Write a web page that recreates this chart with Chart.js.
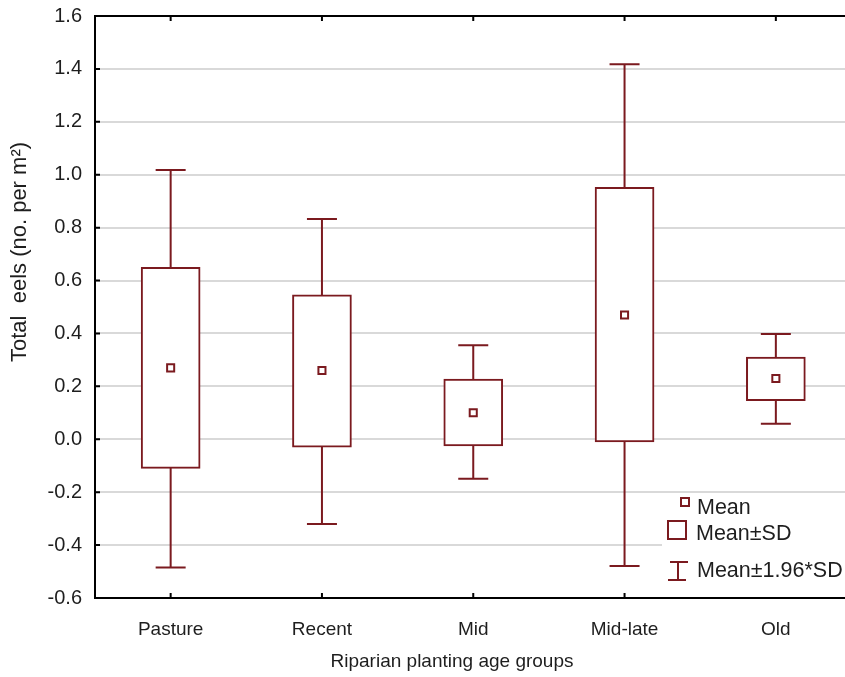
<!DOCTYPE html>
<html>
<head>
<meta charset="utf-8">
<script src="https://cdn.jsdelivr.net/npm/chart.js@4/dist/chart.umd.min.js"></script>
<style>
  html, body { margin: 0; padding: 0; background: #fff; overflow: hidden; }
  #wrap { width: 860px; height: 677px; }
</style>
</head>
<body>
<div id="wrap"><canvas id="c" width="860" height="677"></canvas></div>
<script>
// Riparian planting age groups: total eels per m², mean with ±SD box and ±1.96*SD whiskers
const categories = ['Pasture', 'Recent', 'Mid', 'Mid-late', 'Old'];
const means      = [0.27, 0.26, 0.10, 0.47, 0.23];
const sdLow      = [-0.11, -0.03, -0.025, -0.01, 0.146];
const sdHigh     = [0.65, 0.546, 0.228, 0.952, 0.311];
const ciLow      = [-0.485, -0.32, -0.149, -0.479, 0.059];
const ciHigh     = [1.018, 0.833, 0.355, 1.418, 0.398];
const yTicks     = [-0.6, -0.4, -0.2, 0.0, 0.2, 0.4, 0.6, 0.8, 1.0, 1.2, 1.4, 1.6];

const MARK = '#7b1a1f';
const FONT = "'Liberation Sans', Arial, sans-serif";
const TEXT = '#1e1e1e';

// whisker stems and caps, drawn under the SD boxes
const whiskers = {
  id: 'whiskers',
  beforeDatasetsDraw(chart) {
    const { ctx, scales: { x, y } } = chart;
    ctx.save();
    ctx.strokeStyle = MARK;
    ctx.lineWidth = 2;
    categories.forEach((c, i) => {
      const px = x.getPixelForValue(i);
      const top = y.getPixelForValue(ciHigh[i]);
      const bot = y.getPixelForValue(ciLow[i]);
      ctx.beginPath();
      ctx.moveTo(px, top); ctx.lineTo(px, bot);
      ctx.moveTo(px - 15, top); ctx.lineTo(px + 15, top);
      ctx.moveTo(px - 15, bot); ctx.lineTo(px + 15, bot);
      ctx.stroke();
    });
    ctx.restore();
  }
};

// frame, inward tick marks, axis titles and the key
const frame = {
  id: 'frame',
  afterDraw(chart) {
    const { ctx, chartArea: a, scales: { x, y } } = chart;
    ctx.save();
    ctx.strokeStyle = '#000';
    ctx.lineWidth = 2;
    ctx.beginPath();
    ctx.moveTo(a.left - 1, a.top); ctx.lineTo(a.right, a.top);
    yTicks.forEach(v => {
      const py = y.getPixelForValue(v);
      ctx.moveTo(a.left, py); ctx.lineTo(a.left + 5, py);
    });
    categories.forEach((c, i) => {
      const px = x.getPixelForValue(i);
      ctx.moveTo(px, a.top); ctx.lineTo(px, a.top + 5);
      ctx.moveTo(px, a.bottom); ctx.lineTo(px, a.bottom - 5);
    });
    ctx.stroke();

    // axis titles
    ctx.fillStyle = TEXT;
    ctx.font = '19px ' + FONT;
    ctx.textAlign = 'center';
    ctx.textBaseline = 'alphabetic';
    ctx.fillText('Riparian planting age groups', 452, 667);
    ctx.save();
    ctx.translate(26, 252);
    ctx.rotate(-Math.PI / 2);
    ctx.font = '22px ' + FONT;
    ctx.fillText('Total  eels (no. per m²)', 0, 0);
    ctx.restore();

    // key
    ctx.fillStyle = '#fff';
    ctx.fillRect(662, 496, 200, a.bottom - 497);
    ctx.strokeStyle = MARK;
    ctx.lineWidth = 2;
    ctx.strokeRect(681, 498, 8, 8);
    ctx.strokeRect(668, 521, 18, 18);
    ctx.beginPath();
    ctx.moveTo(670, 562); ctx.lineTo(688, 562);
    ctx.moveTo(678, 562); ctx.lineTo(678, 580);
    ctx.moveTo(668, 580); ctx.lineTo(686, 580);
    ctx.stroke();
    ctx.fillStyle = TEXT;
    ctx.font = '21.5px ' + FONT;
    ctx.textAlign = 'left';
    ctx.textBaseline = 'middle';
    ctx.fillText('Mean', 697, 508);
    ctx.fillText('Mean±SD', 696, 534);
    ctx.fillText('Mean±1.96*SD', 697, 571);
    ctx.restore();
  }
};

new Chart(document.getElementById('c'), {
  data: {
    labels: categories,
    datasets: [
      {
        type: 'line',
        label: 'Mean',
        data: means,
        showLine: false,
        pointStyle: 'rect',
        pointRadius: 5,
        pointBorderWidth: 2,
        pointBackgroundColor: '#fff',
        pointBorderColor: MARK,
        order: 0
      },
      {
        type: 'bar',
        label: 'Mean±SD',
        data: categories.map((c, i) => [sdLow[i], sdHigh[i]]),
        backgroundColor: '#fff',
        borderColor: MARK,
        borderWidth: 2,
        borderSkipped: false,
        barThickness: 59,
        order: 1
      }
    ]
  },
  options: {
    responsive: false,
    animation: false,
    layout: { padding: { top: 16, right: 8.5, left: 0, bottom: 0 } },
    plugins: { legend: { display: false }, tooltip: { enabled: false } },
    scales: {
      x: {
        type: 'category',
        offset: true,
        grid: { display: false, drawTicks: false },
        border: { display: true, color: '#000', width: 2 },
        ticks: { color: TEXT, font: { family: FONT, size: 19 }, padding: 20 },
        afterFit(s) { s.height = 79; s.paddingLeft = 0; s.paddingRight = 0; }
      },
      y: {
        min: -0.6,
        max: 1.6,
        afterBuildTicks(s) { s.ticks = yTicks.map(v => ({ value: v })); },
        grid: { color: '#d9d9d9', lineWidth: 2, drawTicks: false },
        border: { display: true, color: '#000', width: 2 },
        ticks: {
          color: TEXT,
          font: { family: FONT, size: 20 },
          padding: 13,
          callback: v => v.toFixed(1)
        },
        afterFit(s) { s.width = 95; s.paddingTop = 0; s.paddingBottom = 0; }
      }
    }
  },
  plugins: [whiskers, frame]
});
</script>
</body>
</html>
